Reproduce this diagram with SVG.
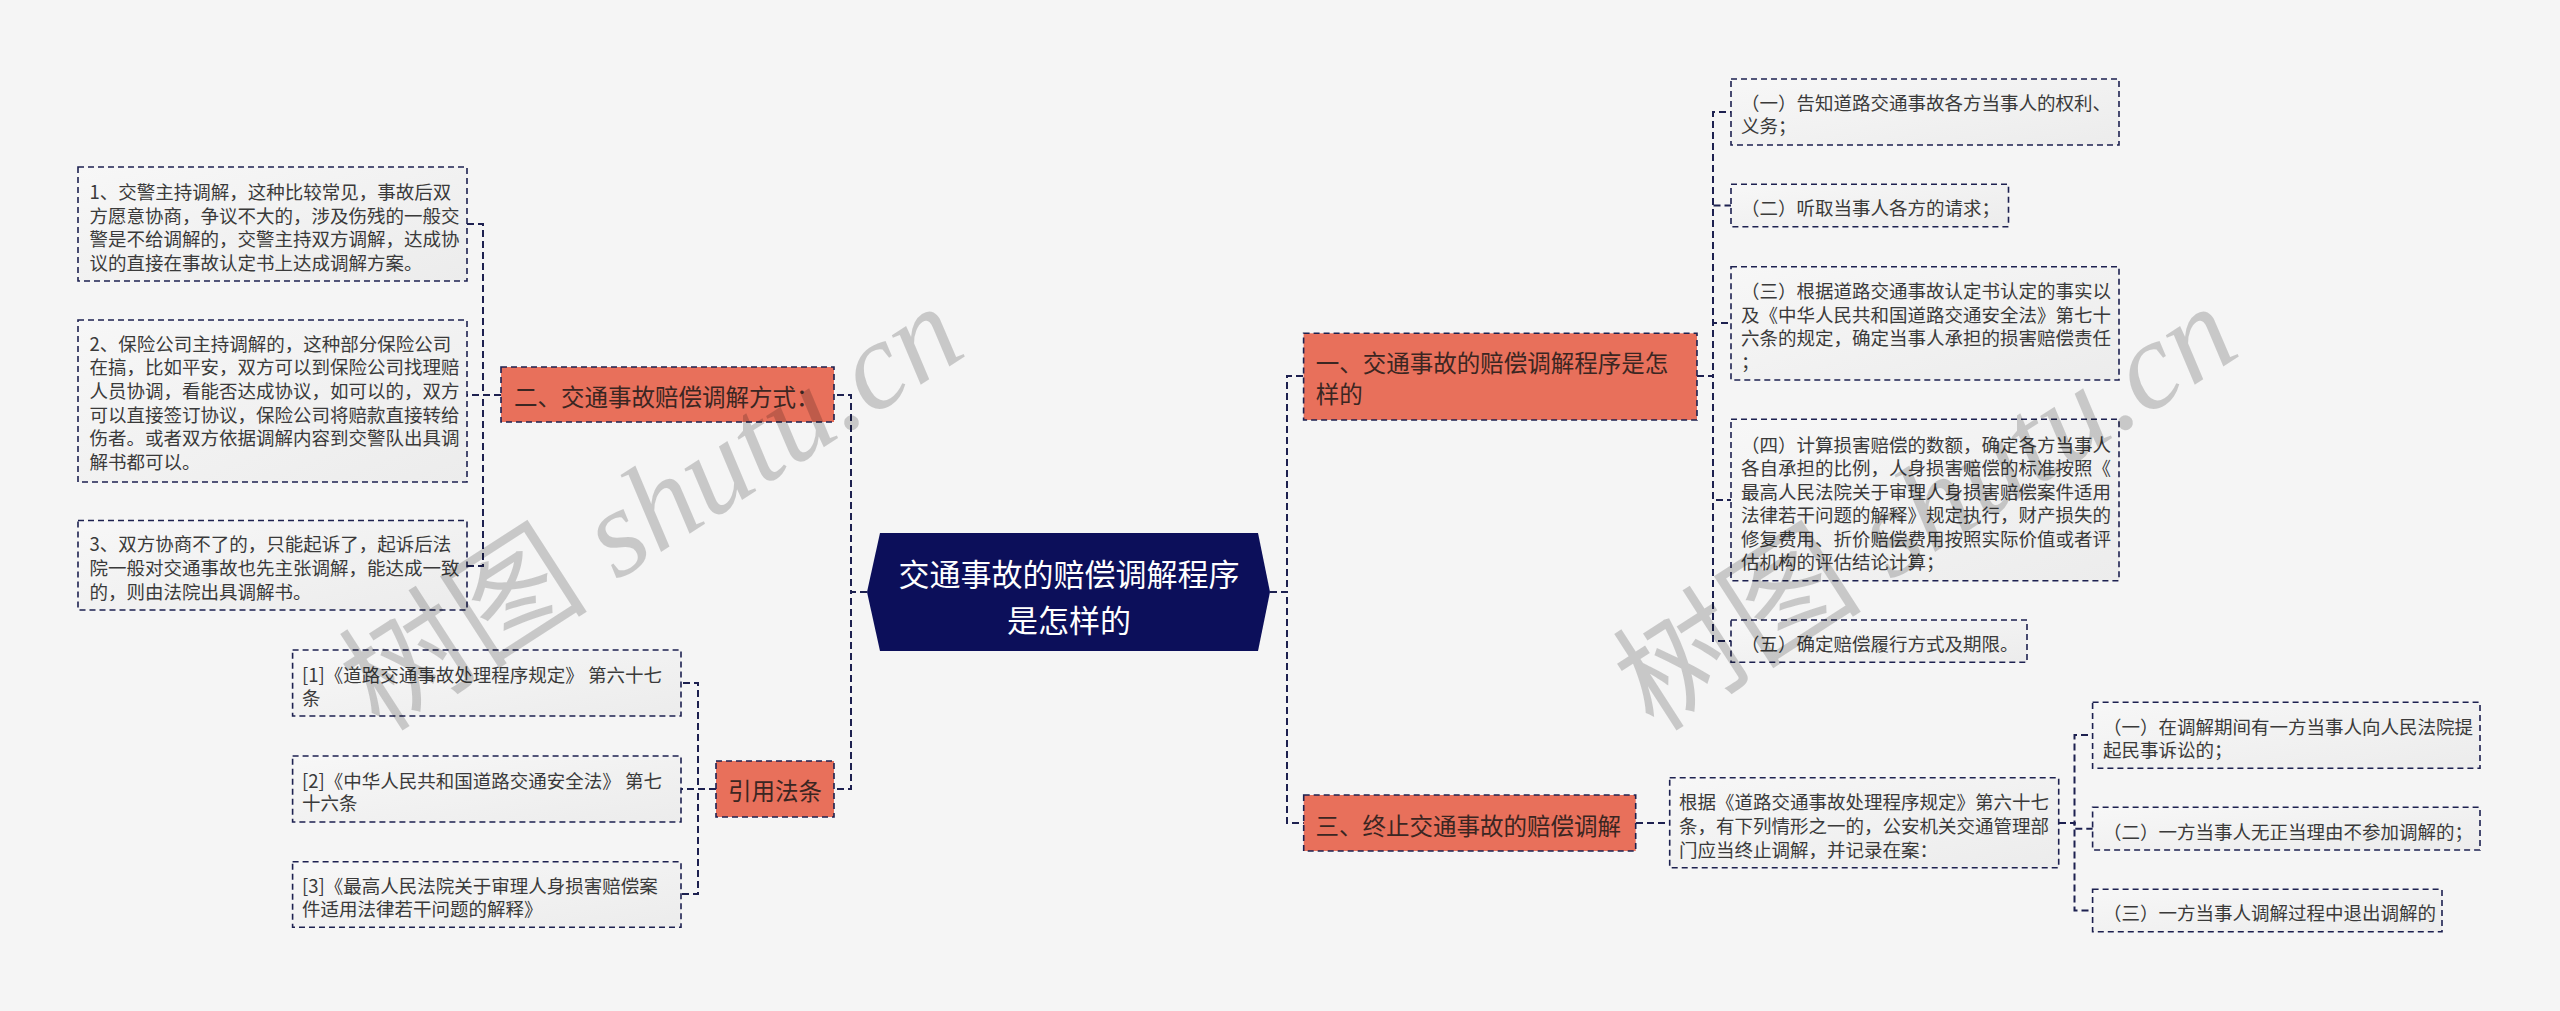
<svg xmlns="http://www.w3.org/2000/svg" width="2560" height="1011" viewBox="0 0 2560 1011">
<defs>
<linearGradient id="boxg" x1="0" y1="0" x2="1" y2="1">
<stop offset="0" stop-color="#F7F7F7"/>
<stop offset="1" stop-color="#ECECEC"/>
</linearGradient>
<style>
.conn{fill:none;stroke:#1d2150;stroke-width:2;stroke-dasharray:7 4;}
.box{fill:url(#boxg);stroke:#1d2150;stroke-width:1.6;stroke-dasharray:6 4;}
.lvl1{fill:#E8705B;stroke:#1d2150;stroke-width:1.6;stroke-dasharray:6 4;}
.main{fill:#0C0F5A;}
.t{font-family:"Noto Sans CJK SC","Microsoft YaHei",sans-serif;font-size:18.5px;fill:#3a3a3a;dominant-baseline:central;}
.t1{font-family:"Noto Sans CJK SC","Microsoft YaHei",sans-serif;font-size:23.5px;fill:#3b2622;dominant-baseline:central;}
.tm{font-family:"Noto Sans CJK SC","Microsoft YaHei",sans-serif;font-size:31px;fill:#ffffff;text-anchor:middle;dominant-baseline:central;}
.wm{font-family:"Liberation Serif","Noto Sans CJK SC",serif;font-size:125px;fill:#000000;fill-opacity:0.18;text-anchor:middle;dominant-baseline:central;}
.it{font-style:italic;}
</style>
</defs>
<rect x="0" y="0" width="2560" height="1011" fill="#F5F5F5"/>

<g id="connectors">
<path class="conn" d="M867 592 H851 V395 H834"/>
<path class="conn" d="M867 592 H851 V789 H834"/>
<path class="conn" d="M501 395 H483 V224 H467"/>
<path class="conn" d="M501 395 H467"/>
<path class="conn" d="M501 395 H483 V566 H467"/>
<path class="conn" d="M716 789 H698 V683 H681"/>
<path class="conn" d="M716 789 H681"/>
<path class="conn" d="M716 789 H698 V894 H681"/>
<path class="conn" d="M1270 592 H1287 V376 H1304"/>
<path class="conn" d="M1270 592 H1287 V823 H1304"/>
<path class="conn" d="M1697 376 H1713 V112 H1731"/>
<path class="conn" d="M1697 376 H1713 V205.5 H1731"/>
<path class="conn" d="M1697 376 H1713 V323 H1731"/>
<path class="conn" d="M1697 376 H1713 V500 H1731"/>
<path class="conn" d="M1697 376 H1713 V641 H1731"/>
<path class="conn" d="M1636 823 H1670"/>
<path class="conn" d="M2059 823 H2074.5 V735 H2093"/>
<path class="conn" d="M2059 823 H2074.5 V828.7 H2093"/>
<path class="conn" d="M2059 823 H2074.5 V910.5 H2093"/>
</g>

<g id="main">
<polygon class="main" points="880,533 1258,533 1270,592 1258,651 880,651 867,592"/>
<text class="tm" x="1069" y="572">交通事故的赔偿调解程序</text>
<text class="tm" x="1069" y="618">是怎样的</text>
</g>

<g id="n2">
<rect class="lvl1" x="501" y="367" width="333" height="55"/>
<text class="t1" x="514" y="396">二、交通事故赔偿调解方式：</text>
</g>

<g id="n2c1">
<rect class="box" x="78" y="167" width="389" height="114"/>
<text class="t" x="89.5" y="191">1、交警主持调解，这种比较常见，事故后双</text>
<text class="t" x="89.5" y="214.5">方愿意协商，争议不大的，涉及伤残的一般交</text>
<text class="t" x="89.5" y="238">警是不给调解的，交警主持双方调解，达成协</text>
<text class="t" x="89.5" y="261.5">议的直接在事故认定书上达成调解方案。</text>
</g>

<g id="n2c2">
<rect class="box" x="78" y="320" width="389" height="162"/>
<text class="t" x="89.5" y="342.5">2、保险公司主持调解的，这种部分保险公司</text>
<text class="t" x="89.5" y="366.2">在搞，比如平安，双方可以到保险公司找理赔</text>
<text class="t" x="89.5" y="389.9">人员协调，看能否达成协议，如可以的，双方</text>
<text class="t" x="89.5" y="413.6">可以直接签订协议，保险公司将赔款直接转给</text>
<text class="t" x="89.5" y="437.3">伤者。或者双方依据调解内容到交警队出具调</text>
<text class="t" x="89.5" y="461">解书都可以。</text>
</g>

<g id="n2c3">
<rect class="box" x="78" y="520.5" width="389" height="89.5"/>
<text class="t" x="89.5" y="543">3、双方协商不了的，只能起诉了，起诉后法</text>
<text class="t" x="89.5" y="567">院一般对交通事故也先主张调解，能达成一致</text>
<text class="t" x="89.5" y="591">的，则由法院出具调解书。</text>
</g>

<g id="law">
<rect class="lvl1" x="716" y="761" width="118" height="56"/>
<text class="t1" x="728" y="790">引用法条</text>
</g>

<g id="law1">
<rect class="box" x="292.6" y="650" width="388.4" height="66"/>
<text class="t" x="302" y="673.5">[1]《道路交通事故处理程序规定》 第六十七</text>
<text class="t" x="302" y="696.5">条</text>
</g>

<g id="law2">
<rect class="box" x="292.6" y="756" width="388.4" height="66"/>
<text class="t" x="302" y="779.5">[2]《中华人民共和国道路交通安全法》 第七</text>
<text class="t" x="302" y="802">十六条</text>
</g>

<g id="law3">
<rect class="box" x="292.6" y="861.7" width="388.4" height="65.6"/>
<text class="t" x="302" y="885">[3]《最高人民法院关于审理人身损害赔偿案</text>
<text class="t" x="302" y="907.5">件适用法律若干问题的解释》</text>
</g>

<g id="n1">
<rect class="lvl1" x="1303.6" y="333.3" width="393.4" height="86.7"/>
<text class="t1" x="1315.7" y="361.7">一、交通事故的赔偿调解程序是怎</text>
<text class="t1" x="1315.7" y="393.3">样的</text>
</g>

<g id="n1c1">
<rect class="box" x="1731" y="79" width="388" height="66"/>
<text class="t" x="1741" y="102">（一）告知道路交通事故各方当事人的权利、</text>
<text class="t" x="1741" y="125">义务；</text>
</g>

<g id="n1c2">
<rect class="box" x="1731" y="184.3" width="277.5" height="42.4"/>
<text class="t" x="1741" y="206.5">（二）听取当事人各方的请求；</text>
</g>

<g id="n1c3">
<rect class="box" x="1731" y="266.7" width="388" height="113.3"/>
<text class="t" x="1741" y="290">（三）根据道路交通事故认定书认定的事实以</text>
<text class="t" x="1741" y="313.5">及《中华人民共和国道路交通安全法》第七十</text>
<text class="t" x="1741" y="337">六条的规定，确定当事人承担的损害赔偿责任</text>
<text class="t" x="1741" y="360.5">；</text>
</g>

<g id="n1c4">
<rect class="box" x="1731" y="419.3" width="388" height="161.4"/>
<text class="t" x="1741" y="443.5">（四）计算损害赔偿的数额，确定各方当事人</text>
<text class="t" x="1741" y="467">各自承担的比例，人身损害赔偿的标准按照《</text>
<text class="t" x="1741" y="490.5">最高人民法院关于审理人身损害赔偿案件适用</text>
<text class="t" x="1741" y="514">法律若干问题的解释》规定执行，财产损失的</text>
<text class="t" x="1741" y="537.5">修复费用、折价赔偿费用按照实际价值或者评</text>
<text class="t" x="1741" y="561">估机构的评估结论计算；</text>
</g>

<g id="n1c5">
<rect class="box" x="1731" y="620" width="296" height="42.3"/>
<text class="t" x="1741" y="643">（五）确定赔偿履行方式及期限。</text>
</g>

<g id="n3">
<rect class="lvl1" x="1303.7" y="795" width="332" height="56"/>
<text class="t1" x="1315.6" y="825">三、终止交通事故的赔偿调解</text>
</g>

<g id="n3c">
<rect class="box" x="1669.7" y="777.7" width="389" height="90"/>
<text class="t" x="1679" y="801">根据《道路交通事故处理程序规定》第六十七</text>
<text class="t" x="1679" y="825">条，有下列情形之一的，公安机关交通管理部</text>
<text class="t" x="1679" y="849">门应当终止调解，并记录在案：</text>
</g>

<g id="n3c1">
<rect class="box" x="2092.6" y="702.3" width="387.4" height="66"/>
<text class="t" x="2103" y="725.5">（一）在调解期间有一方当事人向人民法院提</text>
<text class="t" x="2103" y="748.5">起民事诉讼的；</text>
</g>

<g id="n3c2">
<rect class="box" x="2092.6" y="807.3" width="387.4" height="42.7"/>
<text class="t" x="2103" y="830.5">（二）一方当事人无正当理由不参加调解的；</text>
</g>

<g id="n3c3">
<rect class="box" x="2092.6" y="889.3" width="349.4" height="42.4"/>
<text class="t" x="2103" y="912">（三）一方当事人调解过程中退出调解的</text>
</g>

<g id="watermarks">
<text class="wm" transform="translate(652 508) rotate(-32.8)" x="0" y="0">树图 <tspan class="it">shutu.cn</tspan></text>
<text class="wm" transform="translate(1926 508) rotate(-32.8)" x="0" y="0">树图 <tspan class="it">shutu.cn</tspan></text>
</g>
</svg>
